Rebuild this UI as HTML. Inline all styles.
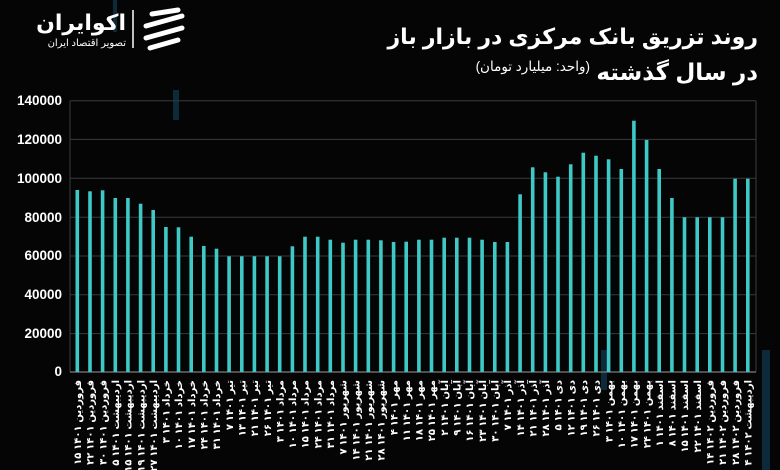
<!DOCTYPE html>
<html><head><meta charset="utf-8"><style>
html,body{margin:0;padding:0;background:#050505;}
svg{display:block;}
.t{font-family:"Liberation Sans","Noto Sans CJK SC","DejaVu Sans",sans-serif;}
</style></head><body>
<svg width="780" height="470" viewBox="0 0 780 470" xmlns="http://www.w3.org/2000/svg">
<rect width="780" height="470" fill="#050505"/>
<g fill="#0c2a3a">
<rect x="113" y="0" width="4" height="32"/>
<rect x="173" y="90" width="6" height="30"/>
<rect x="601" y="350" width="6" height="40"/>
<rect x="762" y="350" width="8" height="120"/>
</g>
<g stroke="#3a3a3a" stroke-width="1">
<line x1="70" x2="756" y1="100.7" y2="100.7"/>
<line x1="70" x2="756" y1="139.4" y2="139.4"/>
<line x1="70" x2="756" y1="178.2" y2="178.2"/>
<line x1="70" x2="756" y1="217.2" y2="217.2"/>
<line x1="70" x2="756" y1="256" y2="256"/>
<line x1="70" x2="756" y1="294.8" y2="294.8"/>
<line x1="70" x2="756" y1="333.6" y2="333.6"/>
<line x1="70" x2="70" y1="100.7" y2="372"/>
<line x1="756" x2="756" y1="100.7" y2="372"/>
</g>
<line x1="70" x2="756" y1="372" y2="372" stroke="#6a6a6a" stroke-width="1.5"/>
<g class="t" fill="#fff" font-size="13.5" font-weight="bold" text-anchor="end">
<text x="62" y="105">140000</text>
<text x="62" y="144">120000</text>
<text x="62" y="183">100000</text>
<text x="62" y="222">80000</text>
<text x="62" y="260">60000</text>
<text x="62" y="299">40000</text>
<text x="62" y="338">20000</text>
<text x="62" y="376">0</text>
</g>
<g fill="#3fc9c6">
<rect x="75.5" y="190" width="3.6" height="182"/>
<rect x="88.2" y="191.3" width="3.6" height="180.7"/>
<rect x="100.8" y="190.3" width="3.6" height="181.7"/>
<rect x="113.5" y="198" width="3.6" height="174"/>
<rect x="126.1" y="198" width="3.6" height="174"/>
<rect x="138.8" y="203.7" width="3.6" height="168.3"/>
<rect x="151.4" y="210" width="3.6" height="162"/>
<rect x="164.1" y="227" width="3.6" height="145"/>
<rect x="176.7" y="227.3" width="3.6" height="144.7"/>
<rect x="189.4" y="236.7" width="3.6" height="135.3"/>
<rect x="202" y="246" width="3.6" height="126"/>
<rect x="214.7" y="248.7" width="3.6" height="123.3"/>
<rect x="227.3" y="256.3" width="3.6" height="115.7"/>
<rect x="240" y="256.3" width="3.6" height="115.7"/>
<rect x="252.6" y="256.3" width="3.6" height="115.7"/>
<rect x="265.3" y="256.3" width="3.6" height="115.7"/>
<rect x="277.9" y="256.3" width="3.6" height="115.7"/>
<rect x="290.6" y="246.3" width="3.6" height="125.7"/>
<rect x="303.2" y="236.7" width="3.6" height="135.3"/>
<rect x="315.9" y="236.7" width="3.6" height="135.3"/>
<rect x="328.5" y="239.7" width="3.6" height="132.3"/>
<rect x="341.2" y="242.7" width="3.6" height="129.3"/>
<rect x="353.8" y="239.7" width="3.6" height="132.3"/>
<rect x="366.5" y="239.7" width="3.6" height="132.3"/>
<rect x="379.1" y="240.3" width="3.6" height="131.7"/>
<rect x="391.8" y="242" width="3.6" height="130"/>
<rect x="404.4" y="241.7" width="3.6" height="130.3"/>
<rect x="417.1" y="239.7" width="3.6" height="132.3"/>
<rect x="429.7" y="239.7" width="3.6" height="132.3"/>
<rect x="442.4" y="237.7" width="3.6" height="134.3"/>
<rect x="455" y="237.7" width="3.6" height="134.3"/>
<rect x="467.7" y="237.7" width="3.6" height="134.3"/>
<rect x="480.3" y="239.7" width="3.6" height="132.3"/>
<rect x="493" y="242" width="3.6" height="130"/>
<rect x="505.6" y="242" width="3.6" height="130"/>
<rect x="518.3" y="194.3" width="3.6" height="177.7"/>
<rect x="530.9" y="167.3" width="3.6" height="204.7"/>
<rect x="543.6" y="172.3" width="3.6" height="199.7"/>
<rect x="556.2" y="176.7" width="3.6" height="195.3"/>
<rect x="568.9" y="164.3" width="3.6" height="207.7"/>
<rect x="581.5" y="152.7" width="3.6" height="219.3"/>
<rect x="594.2" y="155.7" width="3.6" height="216.3"/>
<rect x="606.8" y="159.3" width="3.6" height="212.7"/>
<rect x="619.5" y="169" width="3.6" height="203"/>
<rect x="632.1" y="120.7" width="3.6" height="251.3"/>
<rect x="644.8" y="140" width="3.6" height="232"/>
<rect x="657.4" y="169" width="3.6" height="203"/>
<rect x="670.1" y="198" width="3.6" height="174"/>
<rect x="682.7" y="217.3" width="3.6" height="154.7"/>
<rect x="695.4" y="217.3" width="3.6" height="154.7"/>
<rect x="708" y="217.3" width="3.6" height="154.7"/>
<rect x="720.7" y="217.3" width="3.6" height="154.7"/>
<rect x="733.3" y="178.7" width="3.6" height="193.3"/>
<rect x="746" y="178.7" width="3.6" height="193.3"/>
</g>
<g class="t" fill="#fff" font-size="10" font-weight="bold" text-anchor="end">
<text transform="translate(81,380) rotate(-90)">۱۵ فروردین ۱۴۰۱</text>
<text transform="translate(93.7,380) rotate(-90)">۲۲ فروردین ۱۴۰۱</text>
<text transform="translate(106.3,380) rotate(-90)">۳۰ فروردین ۱۴۰۱</text>
<text transform="translate(119,380) rotate(-90)">۵ اردیبهشت ۱۴۰۱</text>
<text transform="translate(131.6,380) rotate(-90)">۱۵ اردیبهشت ۱۴۰۱</text>
<text transform="translate(144.3,380) rotate(-90)">۱۹ اردیبهشت ۱۴۰۱</text>
<text transform="translate(156.9,380) rotate(-90)">۲۷ اردیبهشت ۱۴۰۱</text>
<text transform="translate(169.6,380) rotate(-90)">۳ خرداد ۱۴۰۱</text>
<text transform="translate(182.2,380) rotate(-90)">۱۰ خرداد ۱۴۰۱</text>
<text transform="translate(194.9,380) rotate(-90)">۱۷ خرداد ۱۴۰۱</text>
<text transform="translate(207.5,380) rotate(-90)">۲۴ خرداد ۱۴۰۱</text>
<text transform="translate(220.2,380) rotate(-90)">۳۱ خرداد ۱۴۰۱</text>
<text transform="translate(232.8,380) rotate(-90)">۷ تیر ۱۴۰۱</text>
<text transform="translate(245.5,380) rotate(-90)">۱۳ تیر ۱۴۰۱</text>
<text transform="translate(258.1,380) rotate(-90)">۲۱ تیر ۱۴۰۱</text>
<text transform="translate(270.8,380) rotate(-90)">۲۶ تیر ۱۴۰۱</text>
<text transform="translate(283.4,380) rotate(-90)">۳ مرداد ۱۴۰۱</text>
<text transform="translate(296.1,380) rotate(-90)">۱۰ مرداد ۱۴۰۱</text>
<text transform="translate(308.7,380) rotate(-90)">۱۵ مرداد ۱۴۰۱</text>
<text transform="translate(321.4,380) rotate(-90)">۲۴ مرداد ۱۴۰۱</text>
<text transform="translate(334,380) rotate(-90)">۳۱ مرداد ۱۴۰۱</text>
<text transform="translate(346.7,380) rotate(-90)">۷ شهریور ۱۴۰۱</text>
<text transform="translate(359.3,380) rotate(-90)">۱۴ شهریور ۱۴۰۱</text>
<text transform="translate(372,380) rotate(-90)">۲۱ شهریور ۱۴۰۱</text>
<text transform="translate(384.6,380) rotate(-90)">۲۸ شهریور ۱۴۰۱</text>
<text transform="translate(397.3,380) rotate(-90)">۴ مهر ۱۴۰۱</text>
<text transform="translate(409.9,380) rotate(-90)">۱۱ مهر ۱۴۰۱</text>
<text transform="translate(422.6,380) rotate(-90)">۱۸ مهر ۱۴۰۱</text>
<text transform="translate(435.2,380) rotate(-90)">۲۵ مهر ۱۴۰۱</text>
<text transform="translate(447.9,380) rotate(-90)">۲ آبان ۱۴۰۱</text>
<text transform="translate(460.5,380) rotate(-90)">۹ آبان ۱۴۰۱</text>
<text transform="translate(473.2,380) rotate(-90)">۱۶ آبان ۱۴۰۱</text>
<text transform="translate(485.8,380) rotate(-90)">۲۳ آبان ۱۴۰۱</text>
<text transform="translate(498.5,380) rotate(-90)">۳۰ آبان ۱۴۰۱</text>
<text transform="translate(511.1,380) rotate(-90)">۷ آذر ۱۴۰۱</text>
<text transform="translate(523.8,380) rotate(-90)">۱۴ آذر ۱۴۰۱</text>
<text transform="translate(536.4,380) rotate(-90)">۲۱ آذر ۱۴۰۱</text>
<text transform="translate(549.1,380) rotate(-90)">۲۸ آذر ۱۴۰۱</text>
<text transform="translate(561.7,380) rotate(-90)">۵ دی ۱۴۰۱</text>
<text transform="translate(574.4,380) rotate(-90)">۱۲ دی ۱۴۰۱</text>
<text transform="translate(587,380) rotate(-90)">۱۹ دی ۱۴۰۱</text>
<text transform="translate(599.7,380) rotate(-90)">۲۶ دی ۱۴۰۱</text>
<text transform="translate(612.3,380) rotate(-90)">۳ بهمن ۱۴۰۱</text>
<text transform="translate(625,380) rotate(-90)">۱۰ بهمن ۱۴۰۱</text>
<text transform="translate(637.6,380) rotate(-90)">۱۷ بهمن ۱۴۰۱</text>
<text transform="translate(650.3,380) rotate(-90)">۲۴ بهمن ۱۴۰۱</text>
<text transform="translate(662.9,380) rotate(-90)">۱ اسفند ۱۴۰۱</text>
<text transform="translate(675.6,380) rotate(-90)">۸ اسفند ۱۴۰۱</text>
<text transform="translate(688.2,380) rotate(-90)">۱۵ اسفند ۱۴۰۱</text>
<text transform="translate(700.9,380) rotate(-90)">۲۲ اسفند ۱۴۰۱</text>
<text transform="translate(713.5,380) rotate(-90)">۱۴ فروردین ۱۴۰۲</text>
<text transform="translate(726.2,380) rotate(-90)">۲۱ فروردین ۱۴۰۲</text>
<text transform="translate(738.8,380) rotate(-90)">۲۸ فروردین ۱۴۰۲</text>
<text transform="translate(751.5,380) rotate(-90)">۴ اردیبهشت ۱۴۰۲</text>
</g>
<g class="t" fill="#fff" font-weight="bold">
<text x="758" y="44" font-size="22" direction="rtl" text-anchor="start">روند تزریق بانک مرکزی در بازار باز</text>
<text x="758" y="80" font-size="23" direction="rtl" text-anchor="start">در سال گذشته</text>
<text x="590" y="71" font-size="13.5" font-weight="normal" direction="rtl" text-anchor="start">(واحد: میلیارد تومان)</text>
</g>
<g class="t" fill="#fff">
<text x="126" y="30" font-size="22" font-weight="bold" direction="rtl" text-anchor="start">اکوایران</text>
<text x="126" y="46" font-size="10" direction="rtl" text-anchor="start">تصویر اقتصاد ایران</text>
</g>
<line x1="133" y1="10" x2="133" y2="48" stroke="#fff" stroke-width="1.5"/>
<g fill="none" stroke="#fff" stroke-width="5" stroke-linecap="round">
<path d="M152 14 L178 10"/>
<path d="M146 26 L182 16"/>
<path d="M146 38 L182 28"/>
<path d="M150 48 L178 40"/>
</g>
</svg>
</body></html>
